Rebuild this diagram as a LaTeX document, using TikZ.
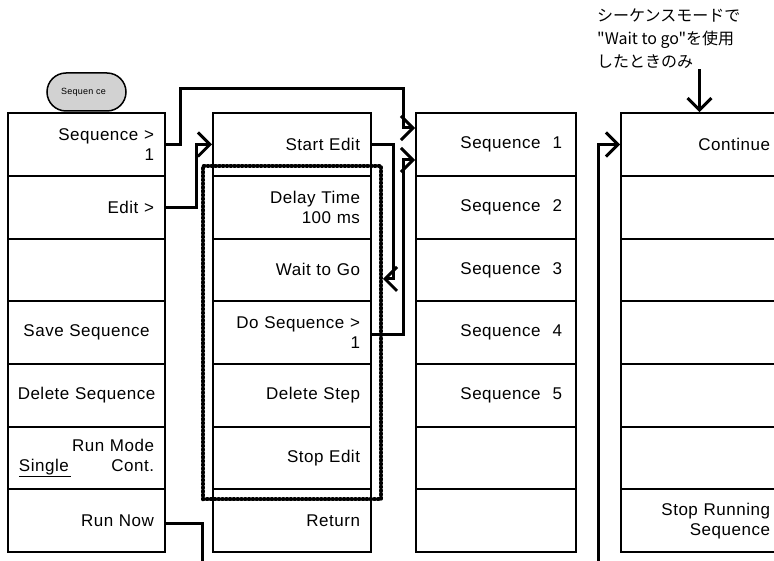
\documentclass[tikz,border=0pt]{standalone}
\usepackage{fontspec}
\setmainfont{Liberation Sans}[LetterSpace=3]
\newfontfamily\jpfont{Noto Sans CJK JP}
\usetikzlibrary{arrows.meta, positioning}
\usetikzlibrary{calc, fit}

\begin{document}
\begin{tikzpicture}[x=1pt, y=-1pt,
    menu/.style={draw, line width=2pt, minimum height=62.7pt, inner xsep=11pt,
        text width=135pt, align=right, font=\fontsize{17}{20}\selectfont},
    wire/.style={line width=3pt},
    link/.style={wire, -{Straight Barb[length=12pt,width=24pt]}}]
    \useasboundingbox (0,0) rectangle (774,561);
    \node[draw, line width=1.5pt, fill=gray!35, rounded corners=19pt, minimum width=79pt,
        minimum height=38pt, font=\fontsize{9}{10}\selectfont](seqkey) at (86.5,92) {Sequen ce\hspace*{6pt}};
    \node[menu](a1) at (86.5,144.5) {Sequence >\\1};
    \node[menu](a2) at (86.5,207.2) {Edit >};
    \node[menu](a3) at (86.5,269.9) {};
    \node[menu, align=center](a4) at (86.5,332.6) {Save Sequence};
    \node[menu, align=center, inner xsep=3pt, text width=151pt](a5) at (86.5,395.3) {Delete Sequence};
    \node[menu](a6) at (86.5,458) {Run Mode\hspace*{6pt}\\\underline{Single\hspace*{2pt}}\hfill Cont.};
    \node[menu](a7) at (86.5,520.7) {Run Now\hspace*{5pt}};
    \node[menu, text width=136pt](b1) at (292,144.5) {Start Edit};
    \node[menu, text width=136pt](b2) at (292,207.2) {Delay Time\hspace*{6pt}\\100 ms\hspace*{3pt}};
    \node[menu, text width=136pt](b3) at (292,269.9) {Wait to Go};
    \node[menu, text width=136pt](b4) at (292,332.6) {Do Sequence >\\1\hspace*{3pt}};
    \node[menu, text width=136pt](b5) at (292,395.3) {Delete Step};
    \node[menu, text width=136pt](b6) at (292,458) {Stop Edit\hspace*{4pt}};
    \node[menu, text width=136pt](b7) at (292,520.7) {Return\hspace*{2pt}};
    \node[menu, inner xsep=14pt, text width=132pt](c1) at (496,144.5) {Sequence\hspace{12pt}1};
    \node[menu, inner xsep=14pt, text width=132pt](c2) at (496,207.2) {Sequence\hspace{12pt}2};
    \node[menu, inner xsep=14pt, text width=132pt](c3) at (496,269.9) {Sequence\hspace{12pt}3};
    \node[menu, inner xsep=14pt, text width=132pt](c4) at (496,332.6) {Sequence\hspace{12pt}4};
    \node[menu, inner xsep=14pt, text width=132pt](c5) at (496,395.3) {Sequence\hspace{12pt}5};
    \node[menu, inner xsep=14pt, text width=132pt](c6) at (496,458) {};
    \node[menu, inner xsep=14pt, text width=132pt](c7) at (496,520.7) {};
    \node[menu, inner xsep=8pt, text width=141pt](d1) at (699.5,144.5) {Continue};
    \node[menu, inner xsep=8pt, text width=141pt](d2) at (699.5,207.2) {};
    \node[menu, inner xsep=8pt, text width=141pt](d3) at (699.5,269.9) {};
    \node[menu, inner xsep=8pt, text width=141pt](d4) at (699.5,332.6) {};
    \node[menu, inner xsep=8pt, text width=141pt](d5) at (699.5,395.3) {};
    \node[menu, inner xsep=8pt, text width=141pt](d6) at (699.5,458) {};
    \node[menu, inner xsep=8pt, text width=141pt](d7) at (699.5,520.7) {Stop Running\hspace*{9pt}\\Sequence\hspace*{11pt}};
    \node[fit=(b2)(b6), inner sep=9pt, draw, line width=3.8pt, line cap=round,
        dash pattern=on 1pt off 2.8pt](editgroup) {};
    \node[anchor=north west, align=left, inner sep=0pt, font=\jpfont\fontsize{16}{23}\selectfont](note) at (597,9)
        {シーケンスモードで\\"Wait to go"を使用\\したときのみ};
    \coordinate (runend) at (202,561);
    \coordinate (runstart) at (598,561);
    \draw[link] (a1.east) -| (180,89) -| (403,128) -- ([yshift=16.5pt]c1.west);
    \draw[link] (a2.east) -| ([xshift=-16pt]b1.west) -- (b1.west);
    \draw[link] (b1.east) -| ($(b3.east)+(21,9)$) -- ($(b3.east -| editgroup.east)+(0,9)$);
    \draw[link] ([yshift=-1.5pt]b4.east) -| ([xshift=-12pt,yshift=-15.5pt]c1.west) -- ([yshift=-15.5pt]c1.west);
    \draw[wire] ([yshift=-2.3pt]a7.east) -| (runend);
    \draw[link] (runstart) |- (d1.west);
    \draw[link] (d1.north |- note.south) -- (d1.north);
\end{tikzpicture}
\end{document}
